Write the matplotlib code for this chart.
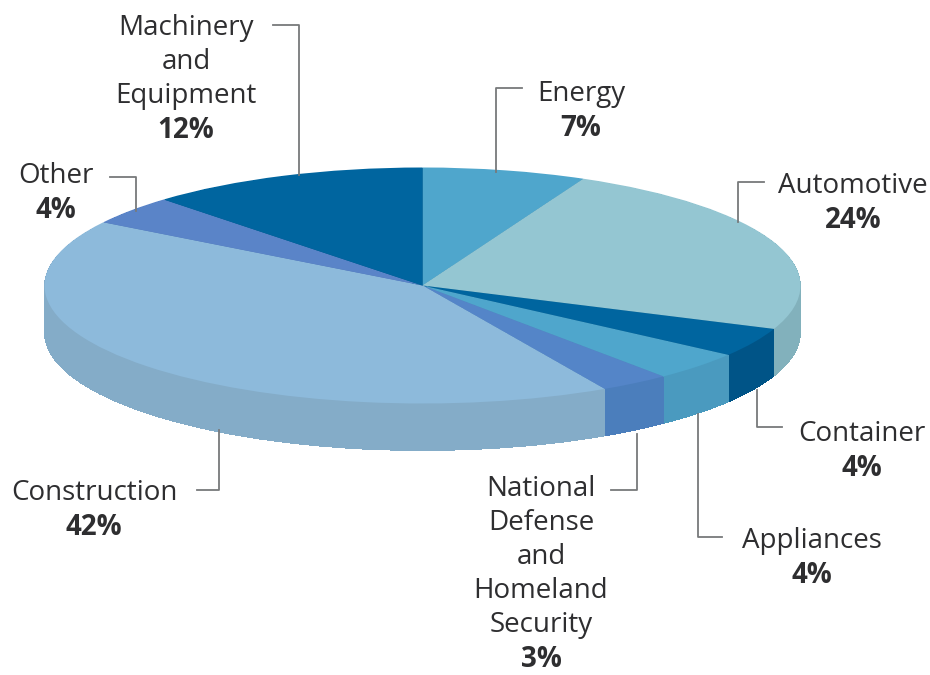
import matplotlib
matplotlib.use("Agg")
import matplotlib.pyplot as plt
from matplotlib.lines import Line2D
import numpy as np

categories = ["Energy", "Automotive", "Container", "Appliances",
              "National\nDefense\nand\nHomeland\nSecurity", "Construction",
              "Other", "Machinery\nand\nEquipment"]
values = [7, 24, 4, 4, 3, 42, 4, 12]

top_colors = ["#4FA6CC", "#94C6D2", "#00659F", "#4FA6CC", "#5485C8", "#8DBADB", "#5A84C8", "#00659F"]
side_colors = ["#4597BA", "#82B1BC", "#005487", "#4A9ABF", "#4B7EBC", "#84ACC8", "#4F78B5", "#005487"]

# label centre (px), leader polyline (px)
label_pos = [(581, 111), (853, 203), (862, 451), (812, 558), (541, 574), (94, 510), (56, 193), (186, 79)]
leaders = [
    [(522, 88), (496, 88), (496, 172)],
    [(764, 182), (738, 182), (738, 222)],
    [(782, 427), (757, 427), (757, 390)],
    [(722, 537), (698, 537), (698, 414)],
    [(611, 490), (637, 490), (637, 434)],
    [(197, 490), (219, 490), (219, 430)],
    [(110, 177), (136, 177), (136, 211)],
    [(273, 25), (299, 25), (299, 175)],
]

W, H = 930, 675
CX, CY, RX, RY, DEPTH = 422.5, 285.5, 378, 118, 47

fig = plt.figure(figsize=(W / 100, H / 100), dpi=100, facecolor="white")
ax = fig.add_axes([0, 0, 1, 1])

# side wall: stacked copies of the pie, lowest first
for k in np.arange(DEPTH, 0, -1.0):
    ax.pie(values, colors=side_colors, startangle=90, counterclock=False,
           radius=1, center=(0, -k / RY), normalize=True, frame=True,
           wedgeprops=dict(linewidth=0.6, edgecolor="none", antialiased=False))
ax.pie(values, colors=top_colors, startangle=90, counterclock=False,
       radius=1, center=(0, 0), normalize=True, frame=True,
       wedgeprops=dict(linewidth=0))

ax.set_aspect("auto")
ax.set_xlim(-CX / RX, (W - CX) / RX)
ax.set_ylim((CY - H) / RY, CY / RY)
ax.axis("off")


def px(x, y):
    return x / W, 1 - y / H


for pts in leaders:
    xs, ys = zip(*[px(*p) for p in pts])
    fig.add_artist(Line2D(xs, ys, color="#77797B", lw=1.3, transform=fig.transFigure))

FS = 20
LINE = 34.2
for name, val, (x, y) in zip(categories, values, label_pos):
    lines = name.split("\n") + [f"{val}%"]
    n = len(lines)
    for i, s in enumerate(lines):
        yy = y + (i - (n - 1) / 2) * LINE
        fx, fy = px(x, yy)
        bold = i == n - 1
        fig.text(fx, fy, s, ha="center", va="center", fontsize=FS,
                 family="Open Sans", color="#2E2E30",
                 fontweight="bold" if bold else "normal")

fig.savefig("out.png", dpi=100)
